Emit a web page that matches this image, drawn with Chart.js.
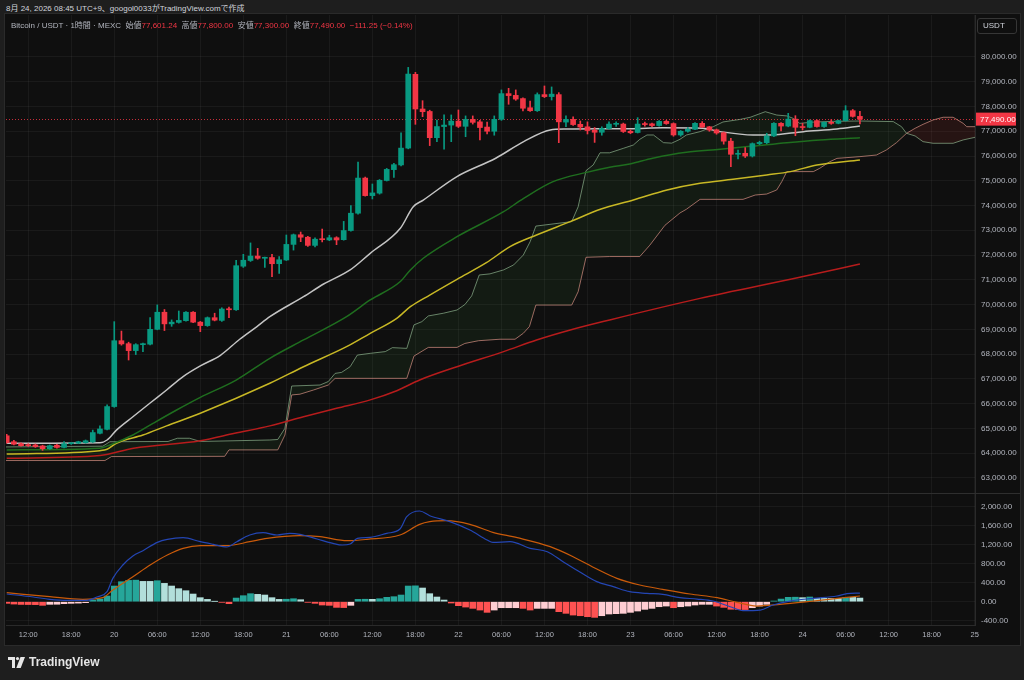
<!DOCTYPE html>
<html lang="ja">
<head>
    <meta charset="UTF-8">
    <title>Bitcoin / USDT · 1時間 · MEXC</title>
    <script src="https://cdn.jsdelivr.net/npm/chart.js"></script>
    <style>
        body {
            margin: 0;
            width: 1024px;
            height: 680px;
            overflow: hidden;
            background: #1e1e1e;
            font-family: 'Liberation Sans', 'Noto Sans CJK JP', sans-serif;
        }
        #stamp {
            position: absolute; left: 6px; top: 2px;
            font-size: 8px; color: #d1d4dc;
        }
        #panel {
            position: absolute; left: 4px; top: 13px;
            width: 1015px; height: 631px;
            background: #0f0f0f; border: 1px solid #2a2a2a;
        }
        #chart { position: absolute; left: 0; top: 0; }
        #legend {
            position: absolute; left: 11px; top: 19px;
            font-size: 8px; color: #b2b5be; white-space: pre;
        }
        #legend .v { color: #f23645; }
        #unit {
            position: absolute; left: 977px; top: 18px;
            width: 38px; height: 14px; line-height: 14px;
            border: 1px solid #363636; border-radius: 3px;
            font-size: 8px; color: #d1d4dc; text-indent: 5px;
        }
        #brand {
            position: absolute; left: 8px; top: 655px;
            font-size: 12px; font-weight: bold; color: #e6e6e6;
            display: flex; align-items: center; gap: 4px;
        }
    </style>
</head>
<body>
    <div id="stamp">8月 24, 2026 08:45 UTC+9、googol0033がTradingView.comで作成</div>
    <div id="panel"></div>
    <canvas id="chart" width="1024" height="680"></canvas>
    <div id="legend">Bitcoin / USDT · 1時間 · MEXC  始値<span class="v">77,601.24</span>  高値<span class="v">77,800.00</span>  安値<span class="v">77,300.00</span>  終値<span class="v">77,490.00</span>  <span class="v">−111.25 (−0.14%)</span></div>
    <div id="unit">USDT</div>
    <div id="brand">
        <svg width="17" height="11" viewBox="0 0 17 11" fill="#e6e6e6">
            <path d="M0 0h7v11H4V3H0z"/><circle cx="9.5" cy="1.6" r="1.6"/><path d="M12.5 0h4.5l-4.3 11H8.3z"/>
        </svg>
        <span>TradingView</span>
    </div>

    <script>
        // hours counted from 19 Aug 00:00, one candle per hour
        const startHour = 9;

        const opens = [
            64700, 64460, 64380, 64340, 64330, 64290, 64180, 64320, 64230, 64380,
            64400, 64420, 64450, 64800, 64960, 65880, 68540, 68420, 68140, 68380,
            68400, 69000, 69690, 69220, 69280, 69350, 69690, 69290, 69150, 69470,
            69360, 69830, 69790, 71550, 71780, 71960, 71870, 71900, 71650, 71800,
            72430, 72820, 72720, 72390, 72640, 72610, 72700, 72620, 72990, 73690,
            75110, 74400, 74500, 75010, 75450, 75640, 76320, 79300, 77900, 77800,
            76740, 77190, 77250, 77410, 77200, 77480, 77380, 77170, 77000, 77480,
            78520, 78450, 78320, 77950, 77830, 78480, 78400, 78480, 77370, 77480,
            77280, 77180, 77040, 76960, 77110, 77280, 77290, 77000, 76950, 77310,
            77300, 77230, 77400, 77310, 76850, 77000, 77080, 77320, 77180, 77060,
            76940, 76600, 76070, 76110, 76000, 76500, 76540, 76810, 77320, 77210,
            77490, 77170, 77160, 77430, 77190, 77360, 77320, 77430, 77830, 77601.24
        ];
        const highs = [
            64760, 64520, 64420, 64380, 64370, 64320, 64330, 64350, 64470, 64430,
            64480, 64530, 64930, 65100, 65950, 69310, 68930, 68480, 68420, 68440,
            69470, 69985, 69800, 69380, 69740, 69720, 69720, 69320, 69500, 69650,
            69870, 69900, 71790, 72030, 72490, 72270, 71920, 72030, 71940, 72810,
            72850, 72930, 72760, 72700, 73050, 72800, 72740, 73360, 74000, 75760,
            75150, 74870, 75050, 75500, 75700, 76940, 79580, 79380, 78235, 77850,
            77455, 77660, 77660, 77860, 77620, 77620, 77440, 77375, 77620, 78670,
            78735, 78670, 78350, 78220, 78550, 78830, 78790, 78560, 77620, 77580,
            77415, 77380, 77150, 77180, 77380, 77380, 77330, 77060, 77550, 77370,
            77330, 77430, 77440, 77340, 77030, 77150, 77350, 77390, 77200, 77090,
            76970, 76710, 76240, 76340, 76530, 76600, 76920, 77350, 77350, 77725,
            77630, 77320, 77460, 77460, 77380, 77470, 77450, 78034, 77880, 77800
        ];
        const lows = [
            64400, 64330, 64280, 64270, 64230, 64110, 64150, 64200, 64210, 64350,
            64380, 64400, 64430, 64780, 64940, 65850, 68360, 67760, 67980, 68100,
            68370, 68980, 68950, 69120, 69250, 69330, 69270, 68905, 69120, 69340,
            69320, 69470, 69760, 71500, 71740, 71830, 71500, 71130, 71260, 71780,
            72200, 72540, 72350, 72330, 72530, 72580, 72420, 72600, 72960, 73650,
            74380, 74265, 74460, 74990, 75140, 75600, 76290, 77280, 77590, 76420,
            76580, 76280, 76580, 77150, 76780, 77290, 76650, 76890, 76840, 77440,
            78090, 78250, 77820, 77800, 77800, 78360, 78260, 76540, 77190, 77240,
            77050, 76890, 76550, 76840, 77080, 77200, 76950, 76900, 76930, 77210,
            77190, 77210, 77280, 76800, 76800, 76960, 77060, 77150, 77000, 76880,
            76480, 75570, 75880, 75940, 75960, 76460, 76500, 76780, 77010, 77180,
            76820, 77050, 77140, 77170, 77160, 77280, 77300, 77410, 77570, 77300
        ];
        const closes = [
            64420, 64360, 64300, 64300, 64260, 64180, 64300, 64230, 64380, 64400,
            64460, 64500, 64830, 64975, 65880, 68540, 68410, 68140, 68380, 68420,
            69000, 69690, 69220, 69290, 69360, 69690, 69290, 69150, 69470, 69370,
            69820, 69790, 71570, 71790, 71960, 71870, 71880, 71650, 71810, 72430,
            72820, 72720, 72390, 72640, 72620, 72700, 72610, 72990, 73690, 75110,
            74400, 74510, 75020, 75460, 75650, 76320, 79310, 77900, 77790, 76740,
            77190, 77250, 77410, 77200, 77480, 77360, 77150, 77000, 77480, 78520,
            78440, 78300, 77930, 77830, 78480, 78400, 78500, 77380, 77480, 77270,
            77170, 77030, 76960, 77110, 77290, 77300, 76990, 76940, 77290, 77270,
            77230, 77400, 77310, 76850, 77000, 77080, 77320, 77170, 77050, 76930,
            76600, 76070, 76110, 76000, 76500, 76550, 76810, 77320, 77210, 77490,
            77160, 77150, 77430, 77190, 77360, 77320, 77430, 77830, 77601.24, 77490
        ];

        // moving averages as [hour, price]
        const maFast = [
            [9, 64400], [22, 64420], [23, 64530], [24.3, 64930], [26.6, 65470], [29, 66025],
            [31.3, 66550], [33.6, 67090], [36, 67520], [38.8, 67950], [41.5, 68600], [43.9, 69110],
            [45.7, 69510], [50.4, 70320], [53.2, 70830], [56.9, 71400], [59.7, 72070], [63.9, 73080],
            [65.7, 73950], [67.1, 74220], [71.8, 75170], [77.2, 75910], [81.1, 76580], [84.8, 77050],
            [87.1, 77090], [91.8, 77100], [95.9, 77100], [100.5, 77140], [106.1, 77120], [108.5, 76985],
            [113.1, 76850], [115.5, 76850], [120.1, 76985], [124.8, 77090], [128, 77210]
        ];
        const maMid = [
            [9, 64130], [22, 64200], [23.4, 64330], [26.6, 64730], [29.4, 65200], [32.7, 65740],
            [36, 66250], [41, 66950], [45.7, 67830], [50.4, 68570], [56.4, 69510], [59.7, 70185],
            [63.9, 70930], [65.3, 71400], [67.1, 71870], [71.8, 72740], [78.3, 73750], [81.1, 74290],
            [85.2, 74965], [89.9, 75340], [93.1, 75545], [95.9, 75680], [99.1, 75910], [103.8, 76150],
            [108.5, 76270], [113.1, 76400], [117.8, 76540], [122.4, 76650], [128, 76740]
        ];
        const maSlow = [
            [9, 63960], [22, 64100], [23, 64155], [24.3, 64400], [28, 64730], [31.3, 65100],
            [36, 65610], [45.7, 66820], [50.4, 67490], [56.4, 68300], [59.7, 68840], [63.4, 69445],
            [65.3, 69915], [68, 70385], [71.8, 71020], [75.9, 71690], [79.2, 72340], [82.9, 72810],
            [87.6, 73350], [91.8, 73850], [96.4, 74225], [101.1, 74630], [105.7, 74900], [110.3, 75060],
            [115, 75235], [118.3, 75370], [122, 75640], [128, 75840]
        ];
        const maLong = [
            [9, 63790], [22, 63900], [26.7, 64200], [36, 64500], [40.8, 64800], [45.7, 65100],
            [50.4, 65470], [55, 65810], [59.7, 66150], [63.4, 66520], [66.6, 66955], [71.8, 67490],
            [78.3, 68100], [82.9, 68570], [87.6, 68975], [93.1, 69380], [105.7, 70250], [119.6, 71100],
            [128, 71640]
        ];

        // ichimoku leading spans (already shifted forward)
        const spanA = [
            [8.9, 64250], [22.4, 64280], [23.4, 64460], [31.5, 64470], [32.8, 64600], [34.5, 64600],
            [36, 64470], [45.7, 64530], [46.8, 64550], [47.8, 65000], [48.75, 66710], [52.7, 66750],
            [53.85, 66890], [54.8, 67220], [55.7, 67260], [56.9, 67490], [57.9, 67960], [59.7, 68030],
            [61.8, 68100], [62.8, 68260], [64.8, 68230], [65.8, 69180], [66.9, 69310], [67.8, 69540],
            [69.9, 69650], [71.8, 69780], [72.9, 70000], [73.85, 70350], [74.9, 71195], [76.4, 71240],
            [78.3, 71400], [79.7, 71600], [81.05, 72000], [82, 72540], [82.8, 73170], [87.8, 73350],
            [88.7, 73950], [89.8, 75410], [90.8, 75640], [91.75, 76130], [93.1, 76130], [95, 76310],
            [96.4, 76445], [97.3, 76675], [98.3, 76850], [99.2, 76850], [100.6, 76540], [101.75, 76520],
            [102.9, 76675], [103.8, 76850], [105.7, 76985], [107.55, 77185], [108.9, 77375], [111.3, 77480],
            [112.7, 77565], [114.8, 77790], [116.4, 77655], [117.8, 77620], [118.7, 77520], [119.6, 77320],
            [121.5, 77370], [124.3, 77400], [128, 77415], [132.65, 77390], [133.8, 77185], [134.5, 76917],
            [135.7, 76810], [136.8, 76580], [138.2, 76515], [141, 76515], [142.4, 76650], [144.05, 76755]
        ];
        const spanB = [
            [8.9, 63700], [22.7, 63700], [23.6, 63860], [39.4, 63870], [40, 64130], [46.8, 64130],
            [47.8, 64730], [48.75, 66350], [49.9, 66380], [51.8, 66550], [53.85, 66750], [54.8, 67020],
            [64.8, 67020], [65.8, 67920], [67.8, 68270], [71.8, 68270], [72.9, 68430], [74.8, 68540],
            [77.8, 68600], [79.9, 68600], [81.05, 68840], [81.9, 69110], [82.8, 69980], [87.8, 69980],
            [88.7, 70520], [89.8, 71910], [93.1, 71940], [97.3, 71940], [98.7, 72400], [100.8, 73200],
            [102.9, 73700], [103.8, 73850], [105.7, 74250], [111.7, 74250], [113.4, 74425], [115, 74465],
            [116.4, 74630], [117.1, 74965], [117.8, 75370], [121.5, 75370], [122.4, 75505], [123.8, 75770],
            [124.8, 75905], [128, 75975], [130.3, 76040], [131.7, 76245], [133.1, 76540], [134.5, 76917],
            [135.7, 77120], [136.8, 77280], [138.2, 77455], [139.6, 77565], [141, 77565], [142.4, 77320],
            [142.9, 77185], [144.05, 77185]
        ];

        // MACD pane
        const macdLine = [
            [9, 162], [12.7, 99], [15, 50], [17.4, 28], [20.2, 28], [21.6, 99], [23, 211], [23.8, 493],
            [25.2, 775], [26.6, 965], [28, 1077], [30, 1253], [31.4, 1317], [33.6, 1352], [36, 1267],
            [37.8, 1211], [39.7, 1155], [41.1, 1267], [42.9, 1408], [44.75, 1458], [46.7, 1408], [48.5, 1443],
            [49.9, 1422], [52.3, 1324], [54.5, 1232], [55.8, 1197], [56.9, 1218], [57.9, 1338], [59.7, 1359],
            [62, 1443], [63.85, 1535], [64.8, 1795], [66.6, 1915], [68, 1816], [70.8, 1690], [73.6, 1514],
            [76, 1303], [76.8, 1253], [79.2, 1267], [82, 1127], [84.4, 1056], [86.6, 845], [89, 620],
            [91.3, 423], [93.6, 317], [95.9, 211], [98.3, 176], [100.5, 155], [102.9, 85], [105.3, 56],
            [107.5, 14], [109.9, -106], [111.7, -190], [114.1, -176], [115.9, -70], [118.25, 14],
            [121.45, 70], [124.8, 120], [126.2, 169], [128, 183]
        ];
        const signalLine = [
            [9, 190], [15, 106], [19.6, 50], [22.4, 85], [23.8, 247], [26.6, 528], [29, 775], [31.4, 986],
            [33.6, 1127], [36, 1183], [39.7, 1183], [42.9, 1267], [45.3, 1338], [49.9, 1394], [52.7, 1373],
            [56.5, 1288], [59.25, 1317], [63.85, 1408], [66.6, 1633], [68, 1690], [70.4, 1711], [73.6, 1633],
            [76.8, 1465], [80.2, 1352], [84.8, 1162], [88, 950], [91.3, 690], [94.1, 493], [97.3, 352],
            [100.5, 261], [104.3, 162], [108.1, 85], [110.85, -14], [113.6, -92], [116.85, -56],
            [121.45, 14], [128, 120]
        ];
        const macdHist = [
            -35, -50, -58, -60, -62, -77, -56, -54, -42, -35,
            -30, -21, 35, 56, 120, 331, 422, 450, 455, 429,
            429, 443, 387, 331, 275, 232, 162, 85, 49, 5,
            -14, -42, 77, 127, 169, 155, 141, 85, 49, 52,
            63, 42, -14, -35, -70, -77, -120, -124, -77, 49,
            52, 50, 63, 92, 106, 141, 331, 335, 289, 169,
            99, 35, -28, -84, -113, -141, -176, -225, -176, -127,
            -127, -127, -141, -176, -141, -141, -141, -211, -246, -282,
            -296, -317, -331, -296, -260, -253, -246, -225, -197, -162,
            -141, -106, -92, -127, -106, -92, -70, -56, -56, -92,
            -120, -160, -164, -166, -127, -92, -56, 14, 56, 92,
            95, 85, 99, 70, 70, 70, 70, 92, 90, 77
        ];

        const priceTicks = [63000, 64000, 65000, 66000, 67000, 68000, 69000, 70000, 71000, 72000,
            73000, 74000, 75000, 76000, 77000, 78000, 79000, 80000];
        const macdTicks = [-400, 0, 400, 800, 1200, 1600, 2000];
        const timeTicks = [12, 18, 24, 30, 36, 42, 48, 54, 60, 66, 72, 78, 84, 90, 96, 102,
            108, 114, 120, 126, 132, 138, 144];

        const UP = '#089981';
        const DOWN = '#f23645';
        const GRID = 'rgba(242, 242, 242, 0.05)';
        const TEXT = '#b2b5be';

        Chart.defaults.font.family = "'Liberation Sans', sans-serif";
        Chart.defaults.font.size = 8;
        Chart.defaults.color = TEXT;

        const candleX = opens.map((o, i) => startHour + i);
        const candleColors = opens.map((o, i) => closes[i] >= o ? UP : DOWN);
        const bodies = opens.map((o, i) => ({ x: candleX[i], y: [o, closes[i]] }));
        const wicks = lows.map((l, i) => ({ x: candleX[i], y: [l, highs[i]] }));
        const histColors = macdHist.map((v, i) => {
            const prev = i > 0 ? macdHist[i - 1] : v;
            if (v >= 0) return v > prev ? '#26a69a' : '#b2dfdb';
            return (i === 0 || v < prev) ? '#ff5252' : '#ffcdd2';
        });
        const pts = arr => arr.map(([x, y]) => ({ x, y }));
        const money = v => v.toLocaleString('en-US', { minimumFractionDigits: 2, maximumFractionDigits: 2 });
        const lastClose = closes[closes.length - 1];

        function line(data, color, width, axis, order, smooth) {
            return {
                type: 'line', data: pts(data), borderColor: color, borderWidth: width,
                pointRadius: 0, fill: false, yAxisID: axis, order: order,
                tension: smooth ? 0.4 : 0,
                cubicInterpolationMode: smooth ? 'monotone' : 'default'
            };
        }

        const spanALine = line(spanA, 'rgba(150, 190, 150, 0.65)', 1, 'y', 9, false);
        spanALine.fill = { target: 7, above: 'rgba(67, 160, 71, 0.09)', below: 'rgba(244, 67, 54, 0.1)' };

        const panesPlugin = {
            id: 'panes',
            beforeDatasetsDraw(chart) {
                const { ctx, chartArea, scales } = chart;
                const y = Math.round(scales.y.getPixelForValue(lastClose)) + 0.5;
                ctx.save();
                ctx.strokeStyle = 'rgba(242, 54, 69, 0.8)';
                ctx.lineWidth = 1;
                ctx.setLineDash([1, 2]);
                ctx.beginPath();
                ctx.moveTo(chartArea.left, y);
                ctx.lineTo(chartArea.right, y);
                ctx.stroke();
                ctx.restore();
            },
            afterDraw(chart) {
                const { ctx, chartArea, scales } = chart;
                ctx.save();
                // separator between price pane and MACD pane
                const sep = Math.round(scales.y.bottom) + 0.5;
                ctx.strokeStyle = '#2e2e2e';
                ctx.lineWidth = 1;
                ctx.beginPath();
                ctx.moveTo(4, sep);
                ctx.lineTo(1020, sep);
                ctx.stroke();
                // last price label
                const y = scales.y.getPixelForValue(lastClose);
                ctx.fillStyle = DOWN;
                ctx.fillRect(chartArea.right + 1, y - 6.5, 40, 13);
                ctx.fillStyle = '#ffffff';
                ctx.font = "8px 'Liberation Sans', sans-serif";
                ctx.textBaseline = 'middle';
                ctx.fillText(money(lastClose), chartArea.right + 5, y + 0.5);
                ctx.restore();
            }
        };

        new Chart(document.getElementById('chart'), {
            type: 'bar',
            data: {
                datasets: [
                    {
                        data: bodies, backgroundColor: candleColors, barThickness: 5,
                        minBarLength: 1, grouped: false, yAxisID: 'y', order: 1
                    },
                    {
                        data: wicks, backgroundColor: candleColors, barThickness: 1,
                        grouped: false, yAxisID: 'y', order: 2
                    },
                    line(maFast, '#c4c4c4', 1.5, 'y', 3, true),
                    line(maMid, '#1f6e1f', 1.5, 'y', 4, true),
                    line(maSlow, '#c8b825', 1.5, 'y', 4, true),
                    line(maLong, '#b71c1c', 1.5, 'y', 4, true),
                    spanALine,
                    line(spanB, 'rgba(205, 140, 130, 0.75)', 1, 'y', 9, false),
                    {
                        data: macdHist.map((v, i) => ({ x: candleX[i], y: v })),
                        backgroundColor: histColors, barThickness: 6,
                        grouped: false, yAxisID: 'macd', order: 6
                    },
                    line(macdLine, '#2446b4', 1.2, 'macd', 5, true),
                    line(signalLine, '#c95a0a', 1.2, 'macd', 5, true)
                ]
            },
            options: {
                responsive: false,
                animation: false,
                layout: { padding: { left: 6, top: 15, right: 4, bottom: 35 } },
                plugins: { legend: { display: false }, tooltip: { enabled: false } },
                scales: {
                    x: {
                        type: 'linear',
                        min: 8.9,
                        max: 144.05,
                        offset: false,
                        grid: { color: GRID, offset: false, drawTicks: false },
                        border: { color: '#2a2a2a' },
                        afterBuildTicks: s => { s.ticks = timeTicks.map(value => ({ value })); },
                        afterFit: s => { s.height = 20; },
                        ticks: {
                            padding: 5,
                            maxRotation: 0,
                            autoSkip: false,
                            font: { size: 7.5 },
                            callback: v => v % 24 === 0 ? String(19 + v / 24) : String(v % 24).padStart(2, '0') + ':00'
                        }
                    },
                    y: {
                        type: 'linear',
                        position: 'right',
                        stack: 'panes',
                        stackWeight: 3.62,
                        min: 62390,
                        max: 81696,
                        grid: { color: GRID, drawTicks: false },
                        border: { color: '#2a2a2a' },
                        afterBuildTicks: s => { s.ticks = priceTicks.map(value => ({ value })); },
                        afterFit: s => { s.width = 45; },
                        ticks: { padding: 6, autoSkip: false, callback: money }
                    },
                    macd: {
                        type: 'linear',
                        position: 'right',
                        stack: 'panes',
                        stackWeight: 1,
                        min: -492,
                        max: 2296,
                        grid: { color: GRID, drawTicks: false },
                        border: { color: '#2a2a2a' },
                        afterBuildTicks: s => { s.ticks = macdTicks.map(value => ({ value })); },
                        afterFit: s => { s.width = 45; },
                        ticks: { padding: 6, autoSkip: false, callback: money }
                    }
                }
            },
            plugins: [panesPlugin]
        });
    </script>
</body>
</html>
